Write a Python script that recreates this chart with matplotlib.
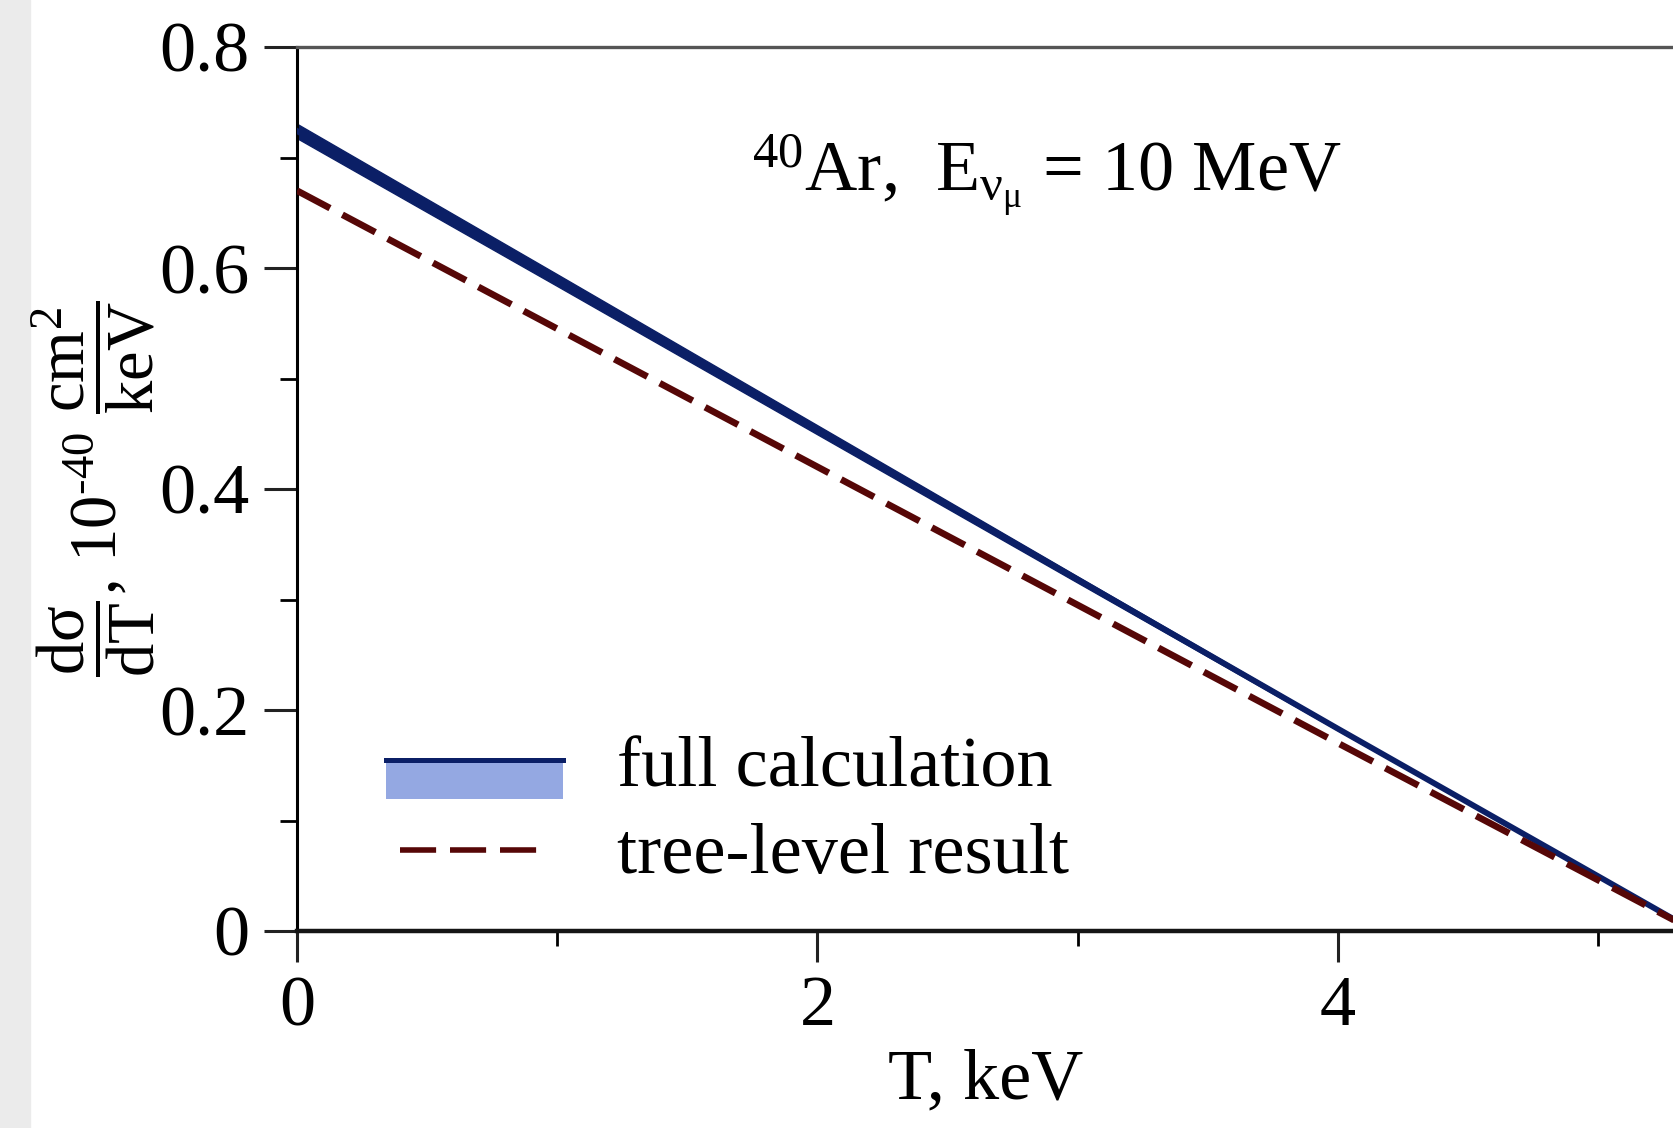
import numpy as np
import matplotlib
matplotlib.use("Agg")
import matplotlib.pyplot as plt
from matplotlib.patches import Rectangle
from matplotlib.lines import Line2D
from matplotlib.ticker import FixedLocator

plt.rcParams['font.family'] = ['Liberation Serif', 'DejaVu Serif']
plt.rcParams['mathtext.fontset'] = 'custom'
plt.rcParams['mathtext.rm'] = 'Liberation Serif'
plt.rcParams['mathtext.it'] = 'Liberation Serif'
plt.rcParams['mathtext.bf'] = 'Liberation Serif:bold'

# recoil energy T (keV) and cross sections (1e-40 cm^2/keV)
T = [0.0, 1.0, 2.0, 3.0, 4.0, 5.0, 5.37]
full_mid = [0.724, 0.589, 0.4535, 0.318, 0.183, 0.0495, 0.0]
full_lo = [0.7175, 0.5837, 0.4494, 0.3152, 0.1815, 0.0492, 0.0]
full_hi = [0.7305, 0.5943, 0.4576, 0.3208, 0.1845, 0.0498, 0.0]
tree = [0.670, 0.545, 0.420, 0.295, 0.170, 0.046, 0.0]

xticks = [0, 2, 4]
xminor = [1, 3, 5]
yticks = [0, 0.2, 0.4, 0.6, 0.8]
yticklabels = ['0', '0.2', '0.4', '0.6', '0.8']
yminor = [0.1, 0.3, 0.5, 0.7]

navy = '#0b1f66'
band = '#94a8e2'
darkred = '#560707'
FS = 52

W, H = 1674, 1128
fig = plt.figure(figsize=(W / 100, H / 100), dpi=100)
fig.add_artist(Rectangle((0, 0), 30 / W, 1, transform=fig.transFigure,
                         color='#ebebeb', zorder=-5))

x0, x1, y0, y1 = 297, 1674, 931, 47
ax = fig.add_axes([x0 / W, 1 - y0 / H, (x1 - x0) / W, (y0 - y1) / H])

# full calculation: narrow band with a line on it
ax.fill_between(T, full_lo, full_hi, color=navy, lw=1.0, zorder=2)
ax.plot(T, full_mid, color=navy, lw=4.2, zorder=3)
ax.plot(T, tree, color=darkred, lw=4.8, dashes=(5.6, 2.1), zorder=4)

ax.set_xlim(0, (x1 - x0) / 260.25)
ax.set_ylim(0, 0.8)

ax.xaxis.set_major_locator(FixedLocator(xticks))
ax.xaxis.set_minor_locator(FixedLocator(xminor))
ax.yaxis.set_major_locator(FixedLocator(yticks))
ax.yaxis.set_minor_locator(FixedLocator(yminor))
ax.set_xticklabels([str(v) for v in xticks])
ax.set_yticklabels(yticklabels)

ax.tick_params(axis='both', which='major', direction='out', labelsize=FS,
               width=2.2, color='#222222')
ax.tick_params(axis='y', which='major', length=24, pad=10)
ax.tick_params(axis='x', which='major', length=22, pad=10)
ax.tick_params(axis='y', which='minor', direction='out', length=12, width=2)
ax.tick_params(axis='x', which='minor', direction='out', length=11, width=2)

ax.spines['right'].set_visible(False)
ax.spines['left'].set_linewidth(2.2)
ax.spines['bottom'].set_linewidth(3.2)
ax.spines['bottom'].set_color('#151515')
ax.spines['top'].set_linewidth(2.4)
ax.spines['top'].set_color('#555555')

ax.set_xlabel('T, keV', fontsize=FS, labelpad=6)
ax.set_ylabel(r'$\dfrac{\mathrm{d}\sigma}{\mathrm{d}T}$, 10$^{\text{-}40}$ '
              r'$\dfrac{\mathrm{cm}^2}{\mathrm{keV}}$',
              fontsize=48, labelpad=2)

ax.text(1.75, 0.669, r'$^{40}$Ar,  E$_{\nu_\mu}$ = 10 MeV', fontsize=FS,
        ha='left', va='baseline')

# legend, drawn by hand in axes fraction
ax.add_patch(Rectangle((0.0646, 0.149), 0.1285, 0.047, transform=ax.transAxes,
                       facecolor=band, edgecolor='none', zorder=5))
ax.add_line(Line2D([0.0646, 0.1931], [0.193, 0.193], transform=ax.transAxes,
                   color=navy, lw=3.6, zorder=6))
ax.add_line(Line2D([0.0748, 0.1816], [0.0916, 0.0916], transform=ax.transAxes,
                   color=darkred, lw=4.0, dashes=(6.5, 2.5), zorder=6))
ax.text(0.2324, 0.163, 'full calculation', transform=ax.transAxes,
        fontsize=FS, va='baseline', ha='left')
ax.text(0.2324, 0.0656, 'tree-level result', transform=ax.transAxes,
        fontsize=FS, va='baseline', ha='left')

fig.savefig('out.png', dpi=100)
